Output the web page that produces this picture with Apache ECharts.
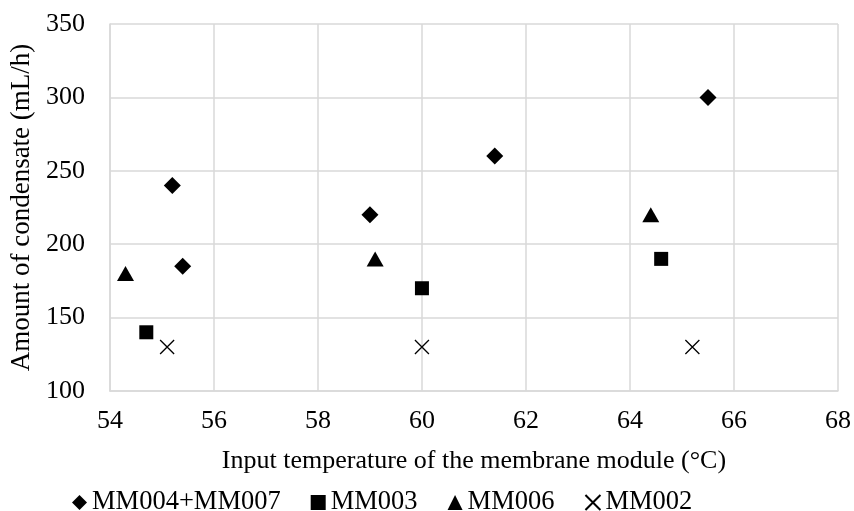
<!DOCTYPE html>
<html><head><meta charset="utf-8">
<script src="https://cdn.jsdelivr.net/npm/echarts@6/dist/echarts.min.js"></script>
<style>html,body{margin:0;padding:0;background:#fff}#c{width:854px;height:511px}</style>
</head><body><div id="c"></div>
<script>
const seriesNames = ['MM004+MM007', 'MM003', 'MM006', 'MM002'];
const mm004_007 = [[55.2, 240], [55.4, 185], [59.0, 220], [61.4, 260], [65.5, 300]];
const mm003 = [[54.7, 140], [60.0, 170], [64.6, 190]];
const mm006 = [[54.3, 180], [59.1, 190], [64.4, 220]];
const mm002 = [[55.1, 130], [60.0, 130], [65.2, 130]];
const xTitle = 'Input temperature of the membrane module (°C)';
const yTitle = 'Amount of condensate (mL/h)';

const FONT = '"Liberation Serif", "Times New Roman", serif';
const crossPath = 'path://M0,0L10,10M10,0L0,10';
const chart = echarts.init(document.getElementById('c'));
chart.setOption({
  animation: false,
  backgroundColor: '#fff',
  textStyle: { fontFamily: FONT, color: '#000' },
  grid: { left: 108, top: 24, right: 15, bottom: 120 },
  legend: {
    top: 484, left: 67,
    itemWidth: 15, itemHeight: 15, itemGap: 30,
    textStyle: { fontFamily: FONT, fontSize: 26.5, color: '#000' },
    data: seriesNames
  },
  xAxis: {
    type: 'value', min: 54, max: 68, interval: 2,
    name: xTitle, nameLocation: 'middle', nameGap: 57,
    nameTextStyle: { fontFamily: FONT, fontSize: 26, color: '#000' },
    axisLine: { lineStyle: { color: '#d9d9d9', width: 1.5 } },
    axisTick: { show: false },
    splitLine: { show: true, lineStyle: { color: '#d9d9d9', width: 1.5 } },
    axisLabel: { fontFamily: FONT, fontSize: 26, color: '#000', margin: 17 }
  },
  yAxis: {
    type: 'value', min: 100, max: 350, interval: 50,
    name: yTitle, nameLocation: 'middle', nameGap: 73,
    nameTextStyle: { fontFamily: FONT, fontSize: 27, color: '#000' },
    axisLine: { show: true, lineStyle: { color: '#d9d9d9', width: 1.5 } },
    axisTick: { show: false },
    splitLine: { show: true, lineStyle: { color: '#d9d9d9', width: 1.5 } },
    axisLabel: { fontFamily: FONT, fontSize: 26, color: '#000', margin: 25 }
  },
  series: [
    { name: seriesNames[0], type: 'scatter', symbol: 'diamond', symbolSize: [17, 17], data: mm004_007, itemStyle: { color: '#000', opacity: 1 } },
    { name: seriesNames[1], type: 'scatter', symbol: 'rect', symbolSize: 14, data: mm003, itemStyle: { color: '#000', opacity: 1 } },
    { name: seriesNames[2], type: 'scatter', symbol: 'triangle', symbolSize: [17, 15], data: mm006, itemStyle: { color: '#000', opacity: 1 } },
    { name: seriesNames[3], type: 'scatter', symbol: crossPath, symbolSize: 14, data: mm002,
      itemStyle: { color: 'rgba(0,0,0,0)', borderColor: '#000', borderWidth: 1.3, opacity: 1 } }
  ]
});
</script></body></html>
